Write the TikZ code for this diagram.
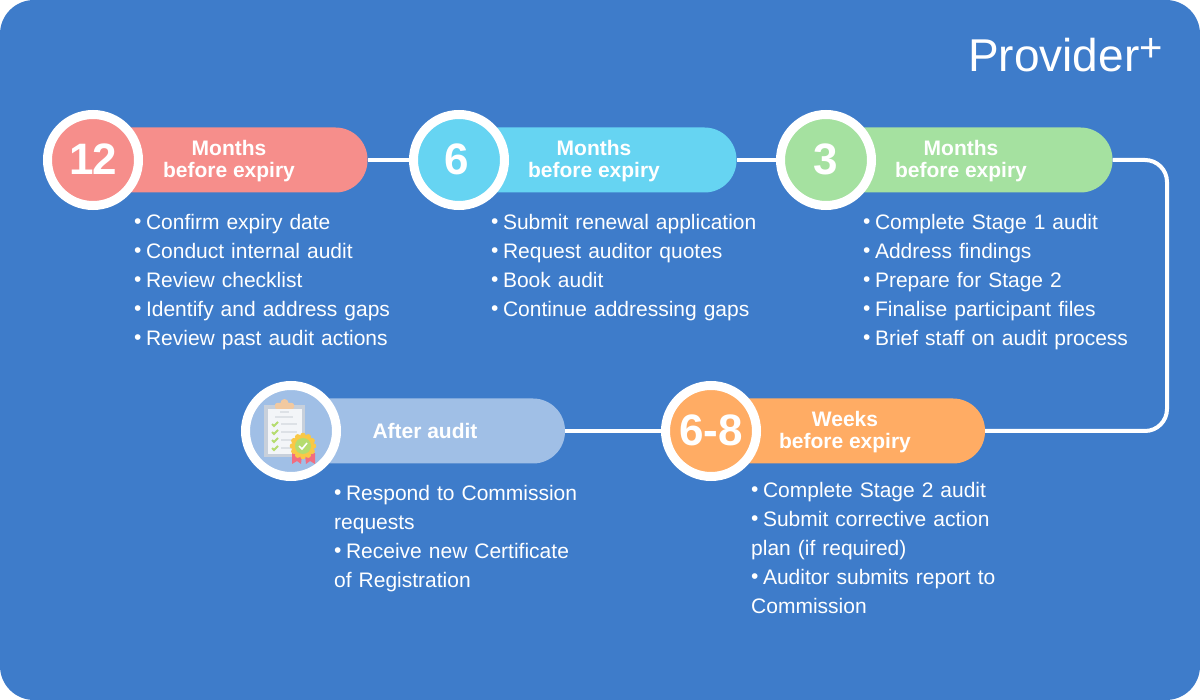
\documentclass[tikz,border=0pt]{standalone}
\usepackage{fontspec}
\setmainfont{Liberation Sans}
\usetikzlibrary{calc}
\definecolor{bgblue}{HTML}{3E7CCA}
\definecolor{salmon}{HTML}{F68E8B}
\definecolor{skyblue}{HTML}{66D4F2}
\definecolor{leaf}{HTML}{A5E1A0}
\definecolor{amber}{HTML}{FFAC64}
\definecolor{paleblue}{HTML}{A0BFE6}
\definecolor{boardgrey}{HTML}{C8D0DB}
\definecolor{papergrey}{HTML}{F3F5F8}
\definecolor{cliptan}{HTML}{F2C9A0}
\definecolor{tickgreen}{HTML}{B5DC6E}
\definecolor{rulegrey}{HTML}{DDE1E6}
\definecolor{ribbon}{HTML}{F26D80}
\definecolor{badge}{HTML}{F9C846}
\tikzset{
    pill/.style={fill=#1, rounded corners=32pt, minimum height=65pt, inner sep=0pt},
    stage/.style={circle, draw=white, line width=9pt, fill=#1, minimum size=91pt, inner sep=0pt,
        text=white, font=\fontsize{44}{44}\selectfont\bfseries},
    pilltext/.style={text=white, align=center, font=\fontsize{21}{22}\selectfont\bfseries},
    steps/.style={text=white, anchor=north west, align=left, inner sep=0pt, text width=#1,
        font=\fontsize{21}{29}\selectfont},
    link/.style={draw=white, line width=4pt},
}
\newcommand{\bul}{\raisebox{1pt}{•}\hspace{4.5pt}}
\newcommand{\stagenum}[1]{\raisebox{2.5pt}{#1}}
\begin{document}
\begin{tikzpicture}[x=1pt, y=-1pt]
    \useasboundingbox (0,0) rectangle (1200,700);
    \fill[white] (0,0) rectangle (1200,700);
    \fill[bgblue, rounded corners=34pt] (0,0) rectangle (1200,700);

    % Logo
    \node[text=white, inner sep=0pt, anchor=base west, font=\fontsize{46}{46}\selectfont] (logo) at (968,72)
        {Provider\raisebox{10.5pt}{\fontsize{40}{40}\selectfont +}};

    % Pills
    \node[pill=salmon, minimum width=277pt] (pill12) at (229,160) {};
    \node[pill=skyblue, minimum width=277pt] (pill6) at (598,160) {};
    \node[pill=leaf, minimum width=287pt] (pill3) at (969,160) {};
    \node[pill=amber, minimum width=274pt] (pillw) at (848,431) {};
    \node[pill=paleblue, minimum width=274pt] (pillafter) at (428,431) {};

    % Stage circles
    \node[stage=salmon] (stage12) at (93,160) {\stagenum{1\kern-1pt 2}};
    \node[stage=skyblue] (stage6) at (459,160) {\stagenum{\kern-4pt 6}};
    \node[stage=leaf] (stage3) at (826,160) {\stagenum{3}};
    \node[stage=amber] (stagew) at (711,431) {\stagenum{6-8}};
    \node[stage=paleblue] (stageafter) at (291,431) {};

    % Connectors
    \coordinate (bend) at (1167,295);
    \draw[link] (pill12.east) -- (stage6.west);
    \draw[link] (pill6.east) -- (stage3.west);
    \draw[link, rounded corners=22pt] (pill3.east) -| (bend) |- (pillw.east);
    \draw[link] (pillafter.east) -- (stagew.west);

    % Pill texts
    \node[pilltext] (label12) at (229,161.5) {Months\\before expiry};
    \node[pilltext] (label6) at (594,161.5) {Months\\before expiry};
    \node[pilltext] (label3) at (961,161.5) {Months\\before expiry};
    \node[pilltext] (labelw) at (845,432.5) {Weeks\\before expiry};
    \node[pilltext] (labelafter) at (425,431) {After audit};

    % Lists
    \node[steps=300pt] (list12) at (134,214) {\bul Confirm expiry date\\\bul Conduct internal audit\\\bul Review checklist\\\bul Identify and address gaps\\\bul Review past audit actions};
    \node[steps=300pt] (list6) at (491,214) {\bul Submit renewal application\\\bul Request auditor quotes\\\bul Book audit\\\bul Continue addressing gaps};
    \node[steps=300pt] (list3) at (863,214) {\bul Complete Stage 1 audit\\\bul Address findings\\\bul Prepare for Stage 2\\\bul Finalise participant files\\\bul Brief staff on audit process};
    \node[steps=300pt] (listw) at (751,482) {\bul Complete Stage 2 audit\\\bul Submit corrective action\\plan (if required)\\\bul Auditor submits report to\\Commission};
    \node[steps=300pt] (listafter) at (334,485) {\bul Respond to Commission\\requests\\\bul Receive new Certificate\\of Registration};

    % Clipboard icon
    \begin{scope}[shift={(291,431)}]
        \fill[boardgrey] (-27,-26) rectangle (14,26);
        \fill[papergrey] (-23,-22) rectangle (11,23);
        \fill[cliptan, rounded corners=2pt] (-16,-28) rectangle (3,-22);
        \fill[cliptan] (-6.5,-28) circle (4pt);
        \foreach \ypos in {-7,1,9,17} {
            \draw[tickgreen, line width=1.8pt] (-19,\ypos) -- (-17,\ypos+2) -- (-13,\ypos-2);
            \draw[rulegrey, line width=1.5pt] (-10,\ypos) -- (6,\ypos);
        }
        \draw[rulegrey, line width=1.5pt] (-11,-19) -- (-2,-19);
        \draw[rulegrey, line width=1.5pt] (-16,-14) -- (2,-14);
        \fill[ribbon] (1,22) -- (11,24) -- (10,33) -- (6,30) -- (1,33) -- cycle;
        \fill[ribbon] (14,24) -- (24,22) -- (24,33) -- (19,30) -- (15,33) -- cycle;
        \foreach \ang in {0,30,...,330}
            \fill[badge] (12,15) ++(\ang:10.5) circle (2.8pt);
        \fill[badge] (12,15) circle (11pt);
        \fill[tickgreen] (12,15) circle (8pt);
        \draw[white, line width=1.6pt] (8,15) -- (11,18) -- (16,12);
    \end{scope}
\end{tikzpicture}
\end{document}
